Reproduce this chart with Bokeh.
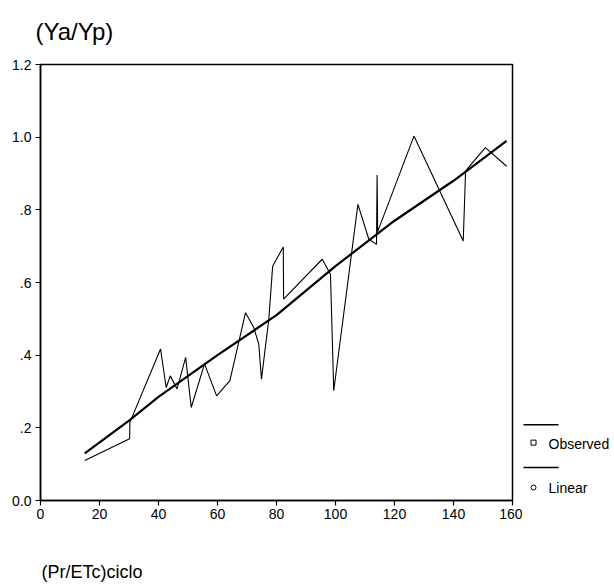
from bokeh.plotting import figure
from bokeh.models import Range1d, FixedTicker, LinearAxis
from bokeh.layouts import row
from bokeh.embed import file_html
from bokeh.resources import INLINE

# Observed relative yield against the seasonal rainfall / crop ET ratio
obs_x = [15, 30.2, 30.3, 40.7, 42.6, 44, 46.3, 49.2, 51.1, 55.6, 59.7, 64.2,
         69.5, 72.3, 74, 74.9, 77.4, 78.7, 82.3, 82.4, 95.5, 98.3, 99.4,
         107.6, 111.3, 113.9, 114.1, 114.3, 126.6, 143.3, 144.1, 150.8, 158]
obs_y = [0.11, 0.17, 0.215, 0.417, 0.311, 0.343, 0.307, 0.394, 0.256, 0.376,
         0.288, 0.33, 0.517, 0.476, 0.43, 0.334, 0.50, 0.645, 0.698, 0.554,
         0.664, 0.623, 0.302, 0.815, 0.719, 0.705, 0.896, 0.74, 1.003, 0.714,
         0.907, 0.971, 0.92]

# Linear fit
lin_x = [15, 30, 40, 60, 80, 100, 120, 140, 158]
lin_y = [0.13, 0.22, 0.285, 0.40, 0.51, 0.645, 0.77, 0.88, 0.99]

x_ticks = [0, 20, 40, 60, 80, 100, 120, 140, 160]
y_ticks = [0, 0.2, 0.4, 0.6, 0.8, 1.0, 1.2]
y_tick_labels = ["0.0", ".2", ".4", ".6", ".8", "1.0", "1.2"]

legend_names = ["Observed", "Linear"]
x_title = "(Pr/ETc)ciclo"
y_title = "(Ya/Yp)"

FONT = "Liberation Sans"

p = figure(width=522, height=587, output_backend="svg", toolbar_location=None,
           x_range=Range1d(0, 160), y_range=Range1d(0, 1.2),
           min_border_left=40, min_border_right=10,
           min_border_top=63, min_border_bottom=87)
p.background_fill_color = "white"
p.border_fill_color = "white"
p.outline_line_color = "black"
p.outline_line_width = 1.5
p.grid.visible = False

# Y variable name, top left above the plot
p.title.text = y_title
p.title.align = "left"
p.title.vertical_align = "top"
p.title.offset = -5
p.title.standoff = 35
p.title.text_font = FONT
p.title.text_font_size = "24px"
p.title.text_font_style = "normal"
p.title.text_color = "black"

for ax in (p.xaxis[0], p.yaxis[0]):
    ax.axis_line_color = "black"
    ax.axis_line_width = 1.5
    ax.major_tick_line_color = "black"
    ax.major_tick_line_width = 1.2
    ax.major_tick_in = 0
    ax.major_tick_out = 5
    ax.minor_tick_line_color = None
    ax.major_label_text_font = FONT
    ax.major_label_text_font_size = "14px"
    ax.major_label_text_color = "black"

p.xaxis.ticker = FixedTicker(ticks=x_ticks)
p.xaxis.major_label_standoff = 3
p.yaxis.ticker = FixedTicker(ticks=y_ticks)
p.yaxis.major_label_overrides = {t: s for t, s in zip(y_ticks, y_tick_labels)}
p.yaxis.major_label_standoff = 4

# X variable name, left-aligned under the tick labels: a bare axis whose
# single label sits at the left end of the x scale
x_title_pos = 17.5
title_axis = LinearAxis(ticker=FixedTicker(ticks=[x_title_pos]),
                        major_label_overrides={x_title_pos: x_title},
                        axis_line_color=None, major_tick_line_color=None,
                        minor_tick_line_color=None, major_tick_in=0,
                        major_tick_out=0, major_label_standoff=40,
                        major_label_text_font=FONT,
                        major_label_text_font_size="18px",
                        major_label_text_color="black")
p.add_layout(title_axis, "below")

p.line(obs_x, obs_y, line_color="black", line_width=1.1)
p.line(lin_x, lin_y, line_color="black", line_width=2.2)

# Legend panel to the right of the plot; its frame lines up with the plot frame,
# so the y range runs in canvas pixels from the frame bottom to the frame top
lg = figure(width=92, height=587, output_backend="svg", toolbar_location=None,
            x_range=Range1d(522, 614), y_range=Range1d(500, 63),
            min_border=0, min_border_left=0, min_border_right=0,
            min_border_top=0, min_border_bottom=0)
lg.axis.visible = False
lg.grid.visible = False
lg.outline_line_color = None
lg.background_fill_color = "white"
lg.border_fill_color = "white"

row_y = [424, 467]
lg.segment(x0=[523, 523], y0=row_y, x1=[558, 558], y1=row_y,
           line_color="black", line_width=1.5)
lg.scatter([533], [442], marker="square", size=5, fill_color="white",
           line_color="black", line_width=1)
lg.scatter([533], [487], marker="circle", size=5, fill_color="white",
           line_color="black", line_width=1)
lg.text([548, 548], [443, 487], text=legend_names, text_font_size="14px",
        text_baseline="middle", text_color="black", text_font={"value": FONT})

layout = row(p, lg)
open("out.html", "w").write(file_html(layout, INLINE))
